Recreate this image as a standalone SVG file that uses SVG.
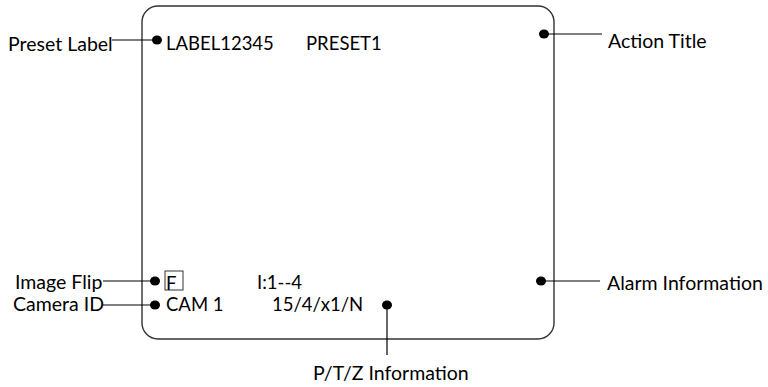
<svg xmlns="http://www.w3.org/2000/svg" width="768" height="387" viewBox="0 0 768 387">
<style>
text{font-family:Lato,"Open Sans","Liberation Sans",sans-serif;font-size:19.5px;fill:#000}
text.in{font-size:18.5px}
.ln{stroke:#000;stroke-width:1.2;fill:none}
.dot{fill:#000}
</style>
<rect width="768" height="387" fill="#fff"/>
<g id="screen"><rect x="142" y="6" width="412" height="333" rx="16" ry="16" fill="none" stroke="#333" stroke-width="1.4"/></g>
<g id="connectors">
<line class="ln" x1="112" y1="40" x2="157" y2="40"/>
<line class="ln" x1="544" y1="34" x2="602" y2="34"/>
<line class="ln" x1="103" y1="281" x2="155" y2="281"/>
<line class="ln" x1="103" y1="305" x2="155" y2="305"/>
<line class="ln" x1="541" y1="281" x2="600" y2="281"/>
<line class="ln" x1="387" y1="305" x2="387" y2="355"/>
</g>
<g id="preset-label"><ellipse class="dot" cx="157" cy="40" rx="5" ry="4.5"/><text x="8" y="51">Preset Label</text><text class="in" x="166" y="50">LABEL12345</text></g>
<g id="preset"><text class="in" x="306" y="50">PRESET1</text></g>
<g id="action-title"><ellipse class="dot" cx="544" cy="34" rx="5" ry="4.5"/><text x="608" y="48">Action Title</text></g>
<g id="image-flip"><ellipse class="dot" cx="155" cy="281" rx="5" ry="4.5"/><text x="15" y="289">Image Flip</text><rect x="165" y="271" width="18" height="19" fill="none" stroke="#333" stroke-width="1"/><text class="in" x="166" y="290">F</text></g>
<g id="intensity"><text class="in" x="257" y="289">I:1--4</text></g>
<g id="camera-id"><ellipse class="dot" cx="155" cy="305" rx="5" ry="4.5"/><text x="13" y="311">Camera ID</text><text class="in" x="166" y="311">CAM 1</text></g>
<g id="ptz"><ellipse class="dot" cx="387" cy="305" rx="5" ry="4.5"/><text class="in" x="272" y="311">15/4/x1/N</text><text x="313" y="380">P/T/Z Information</text></g>
<g id="alarm"><ellipse class="dot" cx="541" cy="281" rx="5" ry="4.5"/><text x="607" y="290">Alarm Information</text></g>
</svg>
